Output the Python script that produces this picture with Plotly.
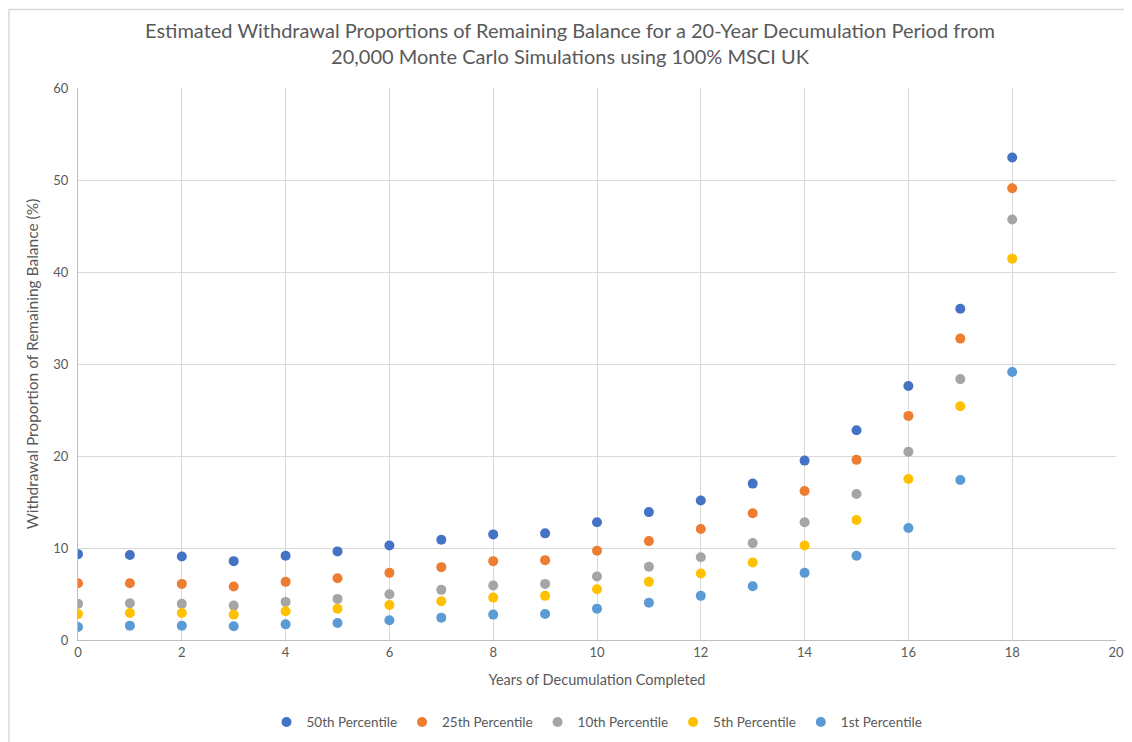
import plotly.graph_objects as go

years = list(range(0, 19))
p50 = [9.33, 9.23, 9.08, 8.57, 9.16, 9.63, 10.28, 10.9, 11.48, 11.59, 12.79, 13.9, 15.16, 17.0, 19.5, 22.8, 27.6, 36.0, 52.44]
p25 = [6.17, 6.17, 6.1, 5.81, 6.32, 6.72, 7.3, 7.92, 8.57, 8.68, 9.7, 10.75, 12.06, 13.77, 16.2, 19.58, 24.36, 32.76, 49.1]
p10 = [3.93, 4.0, 3.93, 3.74, 4.14, 4.47, 4.97, 5.45, 5.92, 6.1, 6.9, 7.96, 9.0, 10.53, 12.79, 15.87, 20.47, 28.36, 45.7]
p5 = [2.83, 2.94, 2.94, 2.76, 3.12, 3.41, 3.81, 4.21, 4.61, 4.8, 5.52, 6.32, 7.23, 8.43, 10.28, 13.04, 17.5, 25.4, 41.45]
p1 = [1.42, 1.56, 1.56, 1.49, 1.70, 1.85, 2.14, 2.43, 2.76, 2.83, 3.41, 4.06, 4.8, 5.84, 7.3, 9.16, 12.17, 17.4, 29.13]

series_names = ["50th Percentile", "25th Percentile", "10th Percentile", "5th Percentile", "1st Percentile"]
series_values = [p50, p25, p10, p5, p1]
colors = ["#4472C4", "#ED7D31", "#A5A5A5", "#FFC000", "#5B9BD5"]

title_text = ("Estimated Withdrawal Proportions of Remaining Balance for a 20-Year Decumulation Period from"
              "<br>20,000 Monte Carlo Simulations using 100% MSCI UK")

fig = go.Figure()
for name, vals, col in zip(series_names, series_values, colors):
    fig.add_trace(go.Scatter(x=years, y=vals, mode="markers", name=name,
                             marker=dict(color=col, size=10, line=dict(width=0))))

font_family = "Lato, 'Open Sans', sans-serif"
grey = "#595959"

fig.update_layout(
    width=1124, height=734,
    paper_bgcolor="white", plot_bgcolor="white",
    margin=dict(l=70, r=16, t=80, b=102, autoexpand=False),
    font=dict(family=font_family, color=grey, size=12),
    title=dict(text=title_text, x=0.5, xanchor="center", y=0.9585, yanchor="middle",
               font=dict(size=20, color=grey, family=font_family)),
    xaxis=dict(range=[0, 20], dtick=2, tick0=0, showgrid=True, gridcolor="#d9d9d9", gridwidth=1,
               zeroline=False, showline=True, linecolor="#bfbfbf", linewidth=1, mirror=False,
               ticks="", tickfont=dict(size=13, color=grey),
               title=dict(text="Years of Decumulation Completed", font=dict(size=14.5, color=grey), standoff=16)),
    yaxis=dict(range=[0, 60], dtick=10, showgrid=True, gridcolor="#d9d9d9", gridwidth=1,
               zeroline=False, showline=True, linecolor="#bfbfbf", linewidth=1,
               ticks="", tickfont=dict(size=13, color=grey), ticklabelstandoff=6,
               title=dict(text="Withdrawal Proportion of Remaining Balance (%)", font=dict(size=15.5, color=grey), standoff=10)),
    legend=dict(orientation="h", x=0.5, xanchor="center", y=-0.149, yanchor="middle",
                font=dict(size=13.5, color=grey), itemwidth=30, tracegroupgap=0),
    showlegend=True,
)

# light frame around the chart area (left and top edges visible)
fig.add_shape(type="rect", xref="paper", yref="paper",
              x0=-0.0665, x1=1.05, y0=-0.3, y1=1.142,
              line=dict(color="#d9d9d9", width=1.5), fillcolor="rgba(0,0,0,0)", layer="below")

fig.write_html("out.html")
